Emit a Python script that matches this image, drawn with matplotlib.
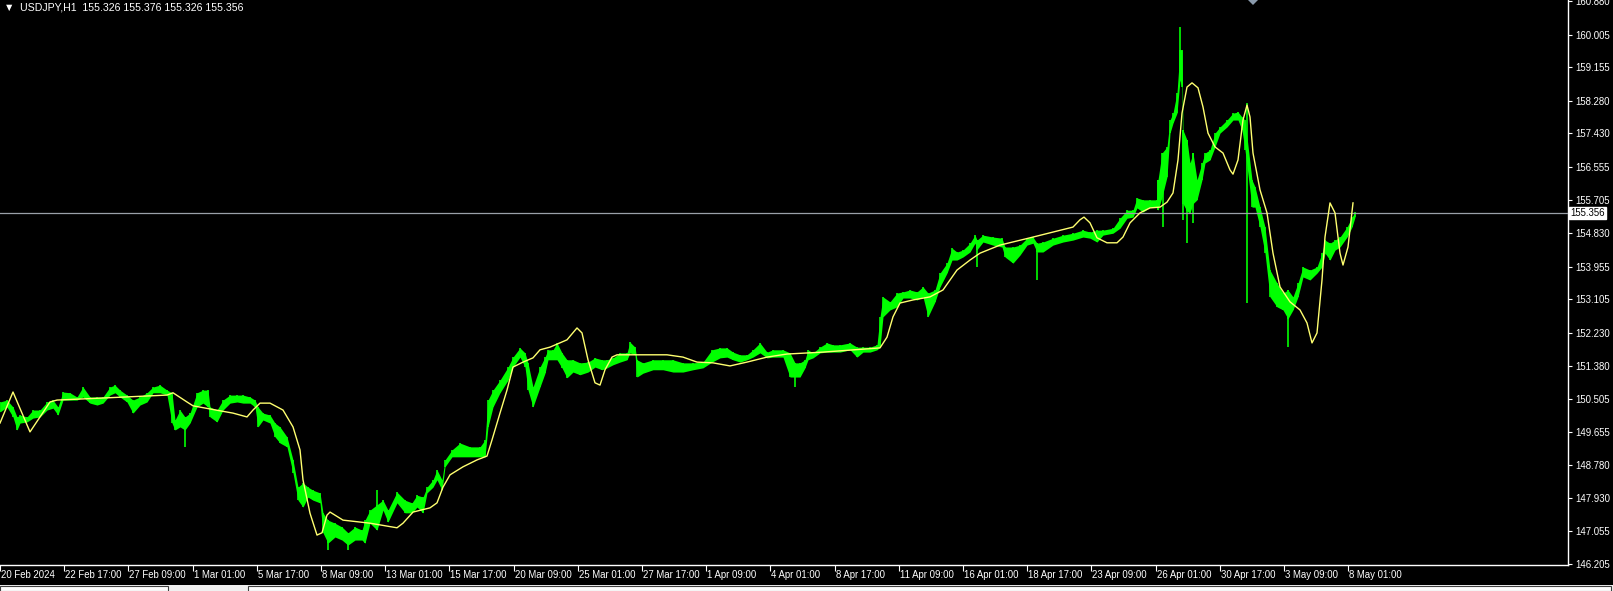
# USDJPY H1 chart, MetaTrader look
import matplotlib
matplotlib.use("Agg")
from matplotlib import pyplot as plt
from matplotlib.patches import Rectangle, Polygon
import matplotlib.transforms as mtransforms

matplotlib.rcParams['font.family'] = ['Liberation Sans', 'DejaVu Sans']

symbol = "USDJPY,H1"
last_ohlc = [155.326, 155.376, 155.326, 155.356]
last_price = 155.356

# price band: bar position, high, low
bar_x = [0, 7, 13, 17, 20, 27, 33, 40, 47, 53, 58, 63, 70, 77, 83, 90, 97, 103, 110, 115,
         120, 127, 133, 140, 147, 153, 160, 167, 172, 175, 180, 185, 190, 197, 203, 208, 210,
         217, 223, 230, 237, 243, 250, 255, 258, 263, 270, 275, 280, 287, 293, 298, 303, 308,
         313, 320, 323, 328, 335, 342, 348, 355, 362, 365, 370, 377, 383, 388, 397, 405, 412,
         417, 423, 427, 433, 437, 442, 445, 452, 460, 470, 480, 485, 488, 493, 500, 508, 513,
         520, 525, 528, 533, 540, 545, 548, 553, 557, 562, 567, 573, 580, 588, 595, 602, 607,
         613, 620, 627, 630, 635, 637, 643, 653, 663, 673, 683, 693, 703, 712, 720, 727, 733,
         740, 747, 753, 760, 767, 773, 783, 790, 795, 800, 805, 808, 813, 820, 827, 833, 840,
         850, 857, 863, 870, 877, 880, 883, 890, 897, 903, 910, 917, 923, 928, 935, 940, 947,
         952, 957, 963, 970, 975, 977, 983, 993, 1002, 1005, 1013, 1020, 1027, 1033, 1037, 1043,
         1053, 1063, 1073, 1083, 1090, 1097, 1103, 1113, 1120, 1127, 1133, 1137, 1143, 1150,
         1157, 1158, 1162, 1167, 1170, 1173, 1177, 1180, 1182, 1183, 1187, 1190, 1193, 1197,
         1202, 1205, 1210, 1215, 1220, 1227, 1233, 1238, 1242, 1245, 1252, 1255, 1260, 1265,
         1270, 1277, 1283, 1288, 1293, 1298, 1303, 1310, 1317, 1322, 1325, 1330, 1335, 1340,
         1347, 1352, 1355]
bar_hi = [150.43, 150.48, 150.30, 150.04, 150.09, 150.04, 150.22, 150.22, 150.43, 150.48, 150.30,
          150.69, 150.67, 150.56, 150.82, 150.56, 150.56, 150.56, 150.82, 150.87, 150.74, 150.61,
          150.48, 150.56, 150.67, 150.82, 150.87, 150.74, 150.67, 149.96, 150.22, 150.04, 150.14,
          150.67, 150.74, 150.74, 150.30, 150.22, 150.48, 150.61, 150.61, 150.61, 150.56, 150.48,
          150.30, 150.14, 150.09, 149.88, 149.78, 149.52, 148.92, 148.21, 148.32, 148.21, 148.13,
          148.06, 147.54, 147.35, 147.27, 147.17, 147.02, 147.17, 147.09, 147.35, 147.61, 147.75,
          147.87, 147.61, 148.08, 147.87, 147.80, 148.00, 147.95, 148.21, 148.40, 148.66, 148.40,
          148.92, 149.18, 149.36, 149.26, 149.26, 149.44, 150.48, 150.74, 151.00, 151.34, 151.60,
          151.84, 151.71, 151.45, 150.82, 151.34, 151.60, 151.79, 151.79, 151.97, 151.71, 151.53,
          151.53, 151.45, 151.47, 151.58, 151.53, 151.53, 151.58, 151.71, 151.71, 151.99, 151.86,
          151.53, 151.45, 151.53, 151.53, 151.53, 151.45, 151.45, 151.47, 151.79, 151.84, 151.84,
          151.73, 151.66, 151.66, 151.79, 151.97, 151.73, 151.79, 151.79, 151.71, 151.45, 151.45,
          151.53, 151.79, 151.71, 151.86, 151.97, 151.92, 151.92, 151.97, 151.86, 151.86, 151.86,
          151.92, 152.65, 153.17, 153.04, 153.27, 153.30, 153.35, 153.30, 153.43, 153.27, 153.35,
          153.79, 154.05, 154.44, 154.34, 154.39, 154.57, 154.78, 154.65, 154.78, 154.73, 154.70,
          154.47, 154.47, 154.52, 154.70, 154.73, 154.57, 154.60, 154.70, 154.78, 154.83, 154.91,
          154.86, 154.91, 154.91, 154.96, 155.22, 155.43, 155.43, 155.75, 155.70, 155.70, 155.70,
          156.22, 156.92, 157.08, 157.78, 157.96, 158.49, 159.61, 159.61, 157.52, 157.26, 156.66,
          156.92, 156.22, 156.66, 156.92, 157.00, 157.44, 157.60, 157.78, 157.96, 157.99, 157.86,
          157.78, 156.22, 156.04, 155.51, 154.99, 153.87, 153.53, 153.27, 153.35, 153.17, 153.53,
          153.95, 153.87, 153.95, 154.31, 154.65, 154.57, 154.65, 154.73, 154.99, 155.25, 155.38]
bar_lo = [150.17, 150.30, 150.04, 149.70, 149.88, 149.91, 150.01, 150.04, 150.22, 150.27, 150.09,
          150.48, 150.48, 150.48, 150.56, 150.40, 150.35, 150.40, 150.61, 150.67, 150.56, 150.43,
          150.14, 150.35, 150.43, 150.67, 150.67, 150.61, 149.88, 149.70, 149.78, 149.70, 149.88,
          150.30, 150.40, 150.30, 150.04, 149.91, 150.22, 150.40, 150.43, 150.40, 150.40, 150.30,
          149.78, 149.96, 149.88, 149.52, 149.36, 149.26, 148.58, 147.87, 147.69, 147.95, 147.87,
          147.80, 147.02, 146.75, 146.91, 146.83, 146.70, 146.83, 146.83, 146.75, 147.27, 147.09,
          147.61, 147.30, 147.80, 147.54, 147.54, 147.69, 147.54, 148.06, 148.21, 148.40, 148.13,
          148.74, 149.00, 149.00, 149.00, 149.00, 149.00, 149.78, 150.30, 150.67, 151.00, 151.34,
          151.60, 151.34, 150.74, 150.30, 150.82, 151.18, 151.53, 151.53, 151.53, 151.32, 151.06,
          151.21, 151.14, 151.21, 151.34, 151.27, 151.32, 151.40, 151.47, 151.53, 151.71, 151.66,
          151.08, 151.18, 151.27, 151.27, 151.21, 151.21, 151.27, 151.32, 151.47, 151.58, 151.60,
          151.53, 151.47, 151.53, 151.60, 151.71, 151.58, 151.60, 151.60, 151.08, 151.08, 151.08,
          151.32, 151.53, 151.58, 151.71, 151.73, 151.73, 151.73, 151.79, 151.60, 151.73, 151.73,
          151.79, 151.86, 152.65, 152.83, 152.91, 153.14, 153.14, 153.09, 153.17, 152.65, 153.04,
          153.43, 153.79, 154.13, 154.13, 154.21, 154.34, 154.57, 154.40, 154.60, 154.52, 154.47,
          154.21, 154.05, 154.26, 154.52, 154.57, 154.34, 154.34, 154.52, 154.60, 154.65, 154.73,
          154.70, 154.60, 154.78, 154.83, 154.96, 155.22, 155.25, 155.49, 155.38, 155.51, 155.51,
          155.43, 155.77, 156.30, 157.44, 157.70, 157.96, 158.82, 158.64, 155.60, 155.40, 155.36,
          155.60, 155.70, 156.22, 156.66, 156.74, 157.08, 157.44, 157.60, 157.78, 157.78, 157.52,
          157.00, 155.51, 155.51, 154.99, 154.31, 153.17, 152.91, 152.83, 152.60, 152.83, 153.17,
          153.69, 153.61, 153.79, 153.95, 154.31, 154.13, 154.39, 154.47, 154.73, 154.99, 155.25]

# long single-bar wicks
wick_x = [185, 328, 348, 377, 795, 977, 1037, 1158, 1163, 1180, 1183, 1187, 1193, 1247, 1288]
wick_hi = [150.04, 147.35, 147.02, 148.13, 151.45, 154.65, 154.57, 156.22, 156.92, 160.21,
           157.52, 157.26, 156.92, 158.22, 153.35]
wick_lo = [149.26, 146.57, 146.57, 147.09, 150.82, 153.95, 153.61, 155.43, 155.00, 158.82,
           155.17, 154.57, 155.10, 153.01, 151.86]

# yellow smoothed indicator
ma_x = [0, 13, 30, 50, 57, 100, 167, 173, 187, 193, 220, 233, 247, 253, 260, 270, 283, 293,
        300, 303, 310, 317, 322, 327, 330, 343, 370, 397, 403, 413, 430, 437, 443, 450, 463,
        477, 487, 492, 500, 507, 513, 523, 533, 540, 550, 567, 577, 582, 588, 595, 600, 605,
        612, 617, 667, 683, 697, 713, 730, 747, 767, 787, 823, 880, 887, 893, 900, 913, 930,
        943, 957, 970, 980, 1000, 1030, 1073, 1080, 1084, 1090, 1097, 1107, 1117, 1123, 1130,
        1140, 1150, 1160, 1167, 1173, 1178, 1182, 1187, 1192, 1198, 1203, 1208, 1215, 1223,
        1230, 1233, 1238, 1243, 1247, 1250, 1253, 1260, 1267, 1273, 1280, 1290, 1300, 1307,
        1312, 1317, 1322, 1325, 1330, 1335, 1340, 1343, 1348, 1353]
ma_val = [149.88, 150.69, 149.65, 150.43, 150.48, 150.53, 150.61, 150.67, 150.43, 150.33,
          150.20, 150.14, 150.04, 150.22, 150.40, 150.40, 150.22, 149.78, 149.18, 148.40,
          147.53, 146.96, 147.02, 147.48, 147.56, 147.35, 147.27, 147.15, 147.27, 147.56,
          147.67, 147.80, 148.21, 148.53, 148.74, 148.92, 149.02, 149.44, 150.14, 150.74,
          151.34, 151.47, 151.58, 151.79, 151.86, 152.05, 152.36, 152.23, 151.53, 150.93,
          150.87, 151.27, 151.60, 151.66, 151.66, 151.60, 151.47, 151.45, 151.37, 151.47,
          151.60, 151.68, 151.73, 151.84, 152.12, 152.65, 153.01, 153.09, 153.17, 153.35,
          153.87, 154.13, 154.31, 154.52, 154.71, 154.99, 155.18, 155.25, 155.10, 154.71,
          154.58, 154.58, 154.73, 155.10, 155.36, 155.49, 155.51, 155.64, 155.88, 156.74,
          157.96, 158.64, 158.75, 158.62, 158.12, 157.44, 157.08, 156.92, 156.48, 156.37,
          156.74, 157.78, 158.17, 157.86, 156.92, 155.96, 155.36, 154.31, 153.43, 153.04,
          152.83, 152.49, 151.97, 152.23, 153.61, 154.73, 155.62, 155.36, 154.31, 154.00,
          154.47, 155.62]

price_ticks = [160.880, 160.005, 159.155, 158.280, 157.430, 156.555, 155.705, 154.830,
               153.955, 153.105, 152.230, 151.380, 150.505, 149.655, 148.780, 147.930,
               147.055, 146.205]
time_labels = ["20 Feb 2024", "22 Feb 17:00", "27 Feb 09:00", "1 Mar 01:00", "5 Mar 17:00",
               "8 Mar 09:00", "13 Mar 01:00", "15 Mar 17:00", "20 Mar 09:00", "25 Mar 01:00",
               "27 Mar 17:00", "1 Apr 09:00", "4 Apr 01:00", "8 Apr 17:00", "11 Apr 09:00",
               "16 Apr 01:00", "18 Apr 17:00", "23 Apr 09:00", "26 Apr 01:00", "30 Apr 17:00",
               "3 May 09:00", "8 May 01:00"]
bars_per_label = 64.2

W, H = 1613, 591
fig = plt.figure(figsize=(W / 100, H / 100), dpi=100, facecolor='black')
ax = fig.add_axes([0, 26 / H, 1568 / W, 565 / H])
ax.set_facecolor('black')
ax.set_xlim(0, 1568)
ax.set_ylim(146.18, 160.91)

green = '#00ff00'
ax.fill_between(bar_x, bar_lo, bar_hi, color=green, lw=0, zorder=2)
ax.vlines(bar_x, bar_lo, bar_hi, color=green, lw=1.2, zorder=2)
ax.vlines(wick_x, wick_lo, wick_hi, color=green, lw=1.2, zorder=2)

# current price line
ax.axhline(last_price, color='#9aa0a8', lw=0.9, zorder=3)
ax.plot(ma_x, ma_val, color='#ffff70', lw=1.0, zorder=4)

for s in ['top', 'left']:
    ax.spines[s].set_visible(False)
for s in ['right', 'bottom']:
    ax.spines[s].set_color('white')
    ax.spines[s].set_linewidth(1.0)

fs = 6.9
ax.yaxis.tick_right()
ax.set_yticks(price_ticks)
ax.set_yticklabels(['%.3f' % p for p in price_ticks])
ax.tick_params(axis='y', colors='white', labelsize=fs, length=3, width=0.8, pad=2, direction='out')

xt = [i * bars_per_label for i in range(len(time_labels))]
ax.set_xticks(xt)
ax.set_xticklabels([])
ax.tick_params(axis='x', colors='white', length=4, width=0.8, direction='out')
trans = mtransforms.blended_transform_factory(ax.transData, ax.transAxes)
for x, lab in zip(xt, time_labels):
    ax.text(x + 1, -0.008, lab, transform=trans, ha='left', va='top',
            color='white', fontsize=fs, clip_on=False)

# price label box on the right scale
ax.text(1.0015, last_price, '%.3f' % last_price,
        transform=mtransforms.blended_transform_factory(ax.transAxes, ax.transData),
        ha='left', va='center', fontsize=fs, color='black', zorder=10,
        bbox=dict(boxstyle='square,pad=0.15', fc='white', ec='white'), clip_on=False)

# header
fig.text(4 / W, 1 - 7 / H, '\u25bc  ' + symbol + '  ' + ' '.join('%.3f' % v for v in last_ohlc),
         color='white', fontsize=7.6, ha='left', va='center',
         family=['Liberation Sans', 'DejaVu Sans'])

# chart shift marker at top (small diamond, half hidden)
mx, my = 1253 / W, 1.0
dx, dy = 5 / W, 5 / H
fig.patches.append(Polygon([(mx - dx, my), (mx, my - dy), (mx + dx, my), (mx, my + dy)],
                           closed=True, transform=fig.transFigure, fc='#8a9aac', ec='none'))

# bottom tab strip
fig.patches.append(Rectangle((0, 0), 1, 6 / H, transform=fig.transFigure,
                             fc='#f0f0f0', ec='none'))
fig.patches.append(Rectangle((0, 0), 168 / W, 5 / H, transform=fig.transFigure,
                             fc='white', ec='#404040', lw=0.8))
fig.patches.append(Rectangle((248 / W, 0), (W - 250) / W, 5 / H, transform=fig.transFigure,
                             fc='white', ec='#404040', lw=0.8))

fig.savefig('out.png', dpi=100, facecolor='black')
